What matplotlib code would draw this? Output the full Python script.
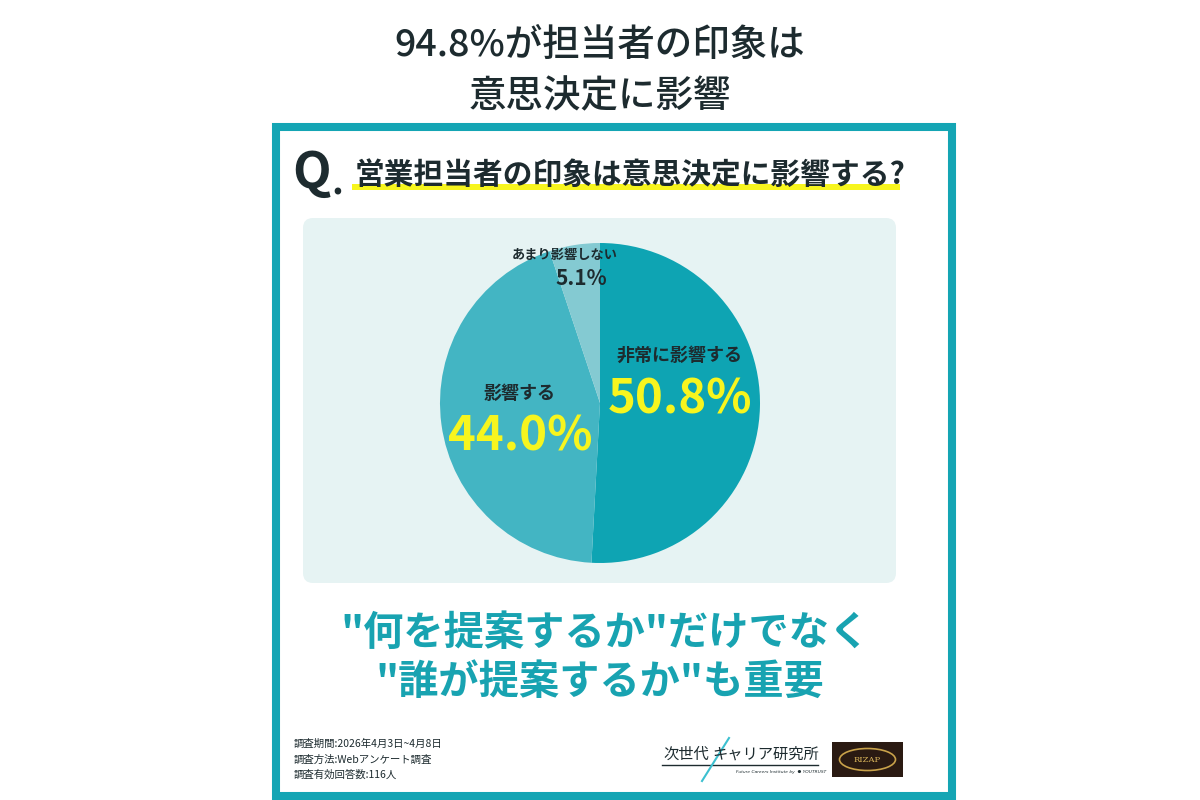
import matplotlib
matplotlib.use('Agg')
import matplotlib.pyplot as plt
from matplotlib.patches import Rectangle, FancyBboxPatch, Ellipse

plt.rcParams['font.family'] = ['Noto Sans CJK JP', 'DejaVu Sans']

# data
labels = ['非常に影響する', '影響する', 'あまり影響しない']
values = [50.8, 44.0, 5.1]
colors = ['#0ea4b3', '#43b5c3', '#84cad2']
title_lines = ['94.8%が担当者の印象は', '意思決定に影響']
question = '営業担当者の印象は意思決定に影響する?'
message = ['"何を提案するか"だけでなく', '"誰が提案するか"も重要']
notes = ['調査期間:2026年4月3日~4月8日', '調査方法:Webアンケート調査', '調査有効回答数:116人']

dark = '#1d2b2f'
teal = '#14a5b4'
yellow = '#f7f51e'

fig = plt.figure(figsize=(12, 8), dpi=100)
bg = fig.add_axes([0, 0, 1, 1])
bg.set_xlim(0, 1200)
bg.set_ylim(800, 0)
bg.axis('off')

# title
bg.text(600, 45, title_lines[0], ha='center', va='center', fontsize=27, fontweight='medium', color=dark)
bg.text(600, 96, title_lines[1], ha='center', va='center', fontsize=27, fontweight='medium', color=dark)

# frame
bg.add_patch(Rectangle((276, 127), 676, 669, fill=False, edgecolor=teal, linewidth=5.8))

# question header
bg.text(292, 173, 'Q', ha='left', va='center', fontsize=36, fontweight='bold', color=dark)
bg.text(331, 184, '.', ha='left', va='center', fontsize=26, fontweight='bold', color=dark)
bg.add_patch(Rectangle((352, 184), 548, 6, facecolor=yellow, edgecolor='none'))
bg.text(355, 175, question, ha='left', va='center', fontsize=21.4, fontweight='bold', color=dark)

# light panel
bg.add_patch(FancyBboxPatch((303, 218), 593, 365, boxstyle='round,pad=0,rounding_size=10',
                            facecolor='#e6f3f3', edgecolor='none', mutation_aspect=1))

# pie
ax = fig.add_axes([440 / 1200, (800 - 563) / 800, 320 / 1200, 320 / 800])
ax.pie(values, colors=colors, startangle=90, counterclock=False, radius=1,
       wedgeprops={'linewidth': 0})
ax.set_xlim(-1, 1)
ax.set_ylim(-1, 1)
ax.set_aspect('equal')
ax.axis('off')

ax.text(0.5, 0.3, labels[0], ha='center', va='center', fontsize=13, fontweight='bold', color=dark)
ax.text(0.5, 0.02, f'{values[0]:.1f}%', ha='center', va='center', fontsize=34, fontweight='bold',
        color=yellow)
ax.text(-0.5, 0.06, labels[1], ha='center', va='center', fontsize=13, fontweight='bold', color=dark)
ax.text(-0.5, -0.21, f'{values[1]:.1f}%', ha='center', va='center', fontsize=34, fontweight='bold',
        color=yellow)
ax.text(-0.22, 0.925, labels[2], ha='center', va='center', fontsize=9.5, fontweight='bold', color=dark)
ax.text(-0.12, 0.78, f'{values[2]:.1f}%', ha='center', va='center', fontsize=15, fontweight='bold',
        color=dark)

# message
bg.text(605, 633, message[0], ha='center', va='center', fontsize=29, fontweight='bold', color='#18a3b1')
bg.text(600, 682, message[1], ha='center', va='center', fontsize=29, fontweight='bold', color='#18a3b1')

# notes
for i, n in enumerate(notes):
    bg.text(294, 744 + i * 15.5, n, ha='left', va='center', fontsize=7.5, color=dark)

# logo 1
bg.text(663, 754, '次世代', ha='left', va='center', fontsize=11, color=dark)
bg.text(712, 754, 'キャリア研究所', ha='left', va='center', fontsize=11, color=dark)
bg.plot([662, 818], [765, 765], color=dark, linewidth=1)
bg.plot([702, 729], [781, 738], color='#3cc0d0', linewidth=1.5)
bg.text(736, 772, 'Future Careers Institute by  ● YOUTRUST', ha='left', va='center',
        fontsize=3.2, style='italic', color=dark, family=['DejaVu Sans'])

# logo 2
bg.add_patch(Rectangle((832, 742), 71, 35, facecolor='#2a1a12', edgecolor='none'))
bg.add_patch(Ellipse((867.5, 759.5), 56, 22, fill=False, edgecolor='#c9a24a', linewidth=1.2))
bg.text(867.5, 760, 'RIZAP', ha='center', va='center', fontsize=6, color='#d8b45a',
        family=['DejaVu Serif'])

fig.savefig('out.png', dpi=100, facecolor='white')
